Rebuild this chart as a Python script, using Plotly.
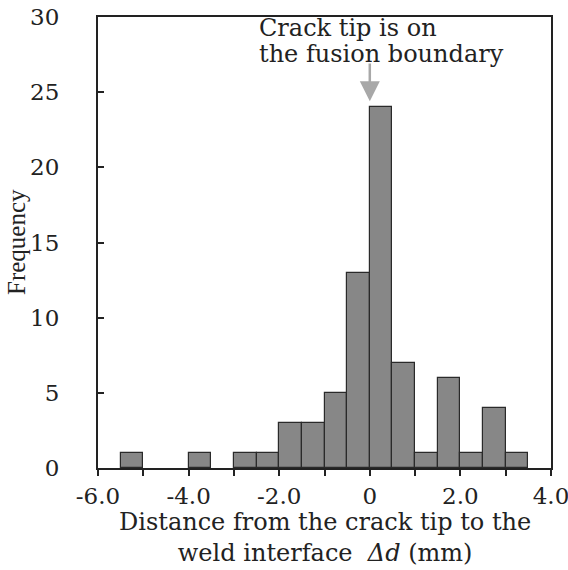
import plotly.graph_objects as go

# Data
bin_centers = [-5.25, -3.75, -2.75, -2.25, -1.75, -1.25, -0.75, -0.25, 0.25, 0.75, 1.25, 1.75, 2.25, 2.75, 3.25]
counts = [1, 1, 1, 1, 3, 3, 5, 13, 24, 7, 1, 6, 1, 4, 1]
bin_width = 0.5
x_tickvals = [-6, -5, -4, -3, -2, -1, 0, 1, 2, 3, 4]
x_ticktext = ["-6.0", "", "-4.0", "", "-2.0", "", "0", "", "2.0", "", "4.0"]
y_tickvals = [0, 5, 10, 15, 20, 25, 30]

SERIF = "DejaVu Serif"

fig = go.Figure()
fig.add_trace(go.Bar(
    x=bin_centers, y=counts, width=bin_width,
    marker=dict(color="#878787", line=dict(color="#2a2a2a", width=1.2)),
    showlegend=False,
))

fig.update_layout(
    width=568, height=570,
    margin=dict(l=98, r=17, t=17, b=102),
    paper_bgcolor="white", plot_bgcolor="white",
    font=dict(family=SERIF, color="#222", size=20),
    bargap=0,
)
fig.update_xaxes(
    range=[-6, 4], tickvals=x_tickvals, ticktext=x_ticktext,
    ticks="outside", ticklen=6, tickwidth=1.5, tickcolor="#222",
    showline=True, linecolor="#222", linewidth=2, mirror=True,
    showgrid=False, zeroline=False, automargin=False,
    ticklabeloverflow="allow",
    tickfont=dict(family=SERIF, size=23, color="#222"),
)
fig.update_yaxes(
    range=[0, 30], tickvals=y_tickvals,
    ticks="inside", ticklen=6, tickwidth=1.5, tickcolor="#222",
    showline=True, linecolor="#222", linewidth=2, mirror=True,
    showgrid=False, zeroline=False, automargin=False,
    ticklabelstandoff=32, ticklabeloverflow="allow",
    tickfont=dict(family=SERIF, size=23, color="#222"),
)

# Axis titles as annotations
fig.add_annotation(
    xref="paper", yref="paper", x=0.5, y=0, yanchor="top", yshift=-38,
    text="Distance from the crack tip to the<br>weld interface  <i>Δd</i> (mm)",
    showarrow=False, font=dict(family=SERIF, size=24, color="#222"),
    align="center",
)
fig.add_annotation(
    xref="paper", yref="paper", x=0, y=0.5, xanchor="right", xshift=-66,
    text="Frequency", textangle=-90,
    showarrow=False, font=dict(family="Liberation Serif", size=25, color="#222"),
)

# Callout
fig.add_annotation(
    x=0.0, y=24.4, ax=0.0, ay=27.0, xref="x", yref="y", axref="x", ayref="y",
    text="", showarrow=True, arrowhead=2, arrowsize=1.6, arrowwidth=2.5,
    arrowcolor="#a8a8a8",
)
fig.add_annotation(
    x=-2.49, y=29.25, xref="x", yref="y",
    text="Crack tip is on",
    showarrow=False, font=dict(family=SERIF, size=24, color="#222"),
    xanchor="left", yanchor="middle",
)
fig.add_annotation(
    x=-2.49, y=27.55, xref="x", yref="y",
    text="the fusion boundary",
    showarrow=False, font=dict(family=SERIF, size=24, color="#222"),
    xanchor="left", yanchor="middle",
)

fig.write_html("out.html")
